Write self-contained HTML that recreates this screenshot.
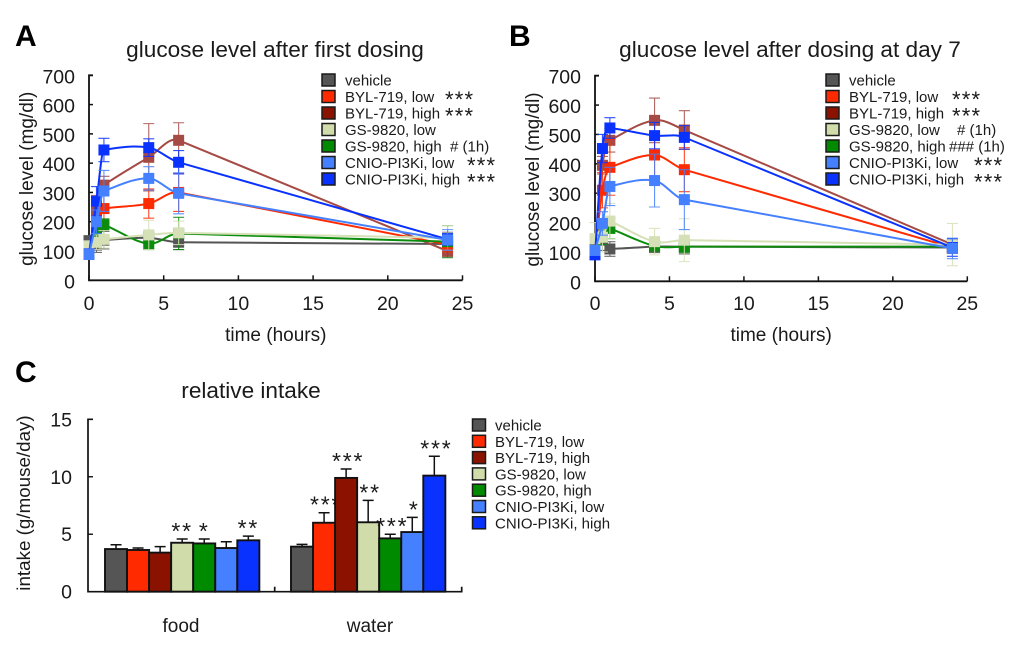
<!DOCTYPE html>
<html>
<head>
<meta charset="utf-8">
<title>Glucose level and relative intake</title>
<style>
html,body{margin:0;padding:0;background:#fff;width:1020px;height:658px;overflow:hidden}
svg{display:block;filter:blur(0.35px)}
text{font-family:"Liberation Sans",sans-serif;fill:#1a1a1a}
</style>
</head>
<body>
<svg id="fig" xmlns="http://www.w3.org/2000/svg" width="1020" height="658" viewBox="0 0 1020 658"></svg>
<script>
const seriesNames = ['vehicle','BYL-719, low','BYL-719, high','GS-9820, low','GS-9820, high','CNIO-PI3Ki, low','CNIO-PI3Ki, high'];
const timePoints = [0,0.5,1,4,6,24];
const xTicks = [0,5,10,15,20,25];
const yTicksGlucose = [0,100,200,300,400,500,600,700];
const yTicksIntake = [0,5,10,15];
const barGroups = ['food','water'];

const glucoseA = [
  [133,120,137,145,130,124],
  [90,170,245,262,300,122],
  [100,240,325,420,478,100],
  [115,130,140,155,162,145],
  [90,160,190,125,160,132],
  [88,200,305,348,297,138],
  [90,270,445,453,403,140]
];
const errorA = [
  [20,25,30,20,25,40],
  [10,30,50,50,65,25],
  [10,50,30,115,60,20],
  [20,25,30,50,40,42],
  [10,20,20,20,55,55],
  [10,40,70,40,70,35],
  [10,50,40,30,40,20]
];
const glucoseB = [
  [105,140,110,118,118,115],
  [100,310,388,430,380,115],
  [100,395,480,548,515,125],
  [145,150,205,135,140,125],
  [100,150,180,120,118,118],
  [105,197,323,343,278,112],
  [90,452,522,496,490,115]
];
const errorB = [
  [20,35,25,20,25,15],
  [20,60,95,75,75,20],
  [15,30,40,76,66,15],
  [55,50,60,45,73,72],
  [20,25,35,15,20,15],
  [15,40,65,90,102,35],
  [15,48,35,45,40,30]
];
const intakeFood = [3.71,3.63,3.4,4.26,4.2,3.8,4.47];
const intakeFoodError = [0.38,0.17,0.52,0.32,0.38,0.55,0.37];
const intakeWater = [3.92,6.0,9.9,6.04,4.64,5.19,10.1];
const intakeWaterError = [0.2,0.87,0.78,1.91,0.36,1.28,1.68];
const foodStars = ['','','','**','*','','**'];
const waterStars = ['','***','***','**','***','*','***'];
const legendMarksA = ['','***','***','','# (1h)','***','***'];
const legendMarksB = ['','***','***','# (1h)','### (1h)','***','***'];

const svg = document.getElementById('fig');
const NS = 'http://www.w3.org/2000/svg';
const barColors = ['#555555','#ff2a00','#8c1200','#d0dcaa','#008a00','#4480ff','#0a32ff'];
const lineColors = ['#555555','#ff2a00','#a54a44','#d5e0b6','#0c8c0c','#4480ff','#0a32ff'];
const drawOrder = [0,2,1,4,3,6,5];

function add(parent, tag, attrs, txt){
  const e = document.createElementNS(NS, tag);
  for(const k in attrs) e.setAttribute(k, attrs[k]);
  if(txt !== undefined) e.textContent = txt;
  parent.appendChild(e);
  return e;
}
function group(parent, name){
  const g = document.createElementNS(NS, 'g');
  
  
  parent.appendChild(g);
  return g;
}
function label(parent, name, x, y, s, size, anchor, extra){
  const t = add(parent, 'text', Object.assign({x:x, y:y, 'font-size':size, 'text-anchor':anchor||'start'}, extra||{}), s);
  
  
  return t;
}
function legend(parent, x, y0, step, textX, marks, markXs){
  const lg = group(parent, 'legend');
  seriesNames.forEach((n,i)=>{
    const g = group(lg, 'legend-entry-' + n.toLowerCase().replace(/[^a-z0-9]+/g,'-'));
    const cy = y0 + i*step;
    add(g,'rect',{x:x,y:cy-6,width:13,height:12,fill:barColors[i],stroke:'#1a1a1a','stroke-width':1.5});
    label(g,'legend-label',textX,cy+5.5,n,15);
    if(marks && marks[i]){
      const m = marks[i];
      if(m.indexOf('*')===0) label(g,'legend-significance',markXs[i],cy+10.5,m,22,'start',{'letter-spacing':'1.2'});
      else label(g,'legend-significance',markXs[i],cy+5.5,m,15);
    }
  });
}
function linePanel(cfg){
  const p = group(svg, cfg.name);
  const X = t => cfg.x0 + (cfg.x1-cfg.x0)*t/25;
  const Y = v => cfg.y0 + (cfg.y1-cfg.y0)*v/700;
  label(p,'panel-title',cfg.titleX,57,cfg.title,22.6,'middle');
  label(p,'y-axis-title',0,0,'glucose level (mg/dl)',19,'middle',{transform:'translate('+(cfg.x0-56)+','+(Y(350)+1)+') rotate(-90)'});
  label(p,'x-axis-title',(cfg.x0+cfg.x1)/2,341,'time (hours)',19,'middle');
  const ax = group(p,'axes');
  add(ax,'path',{d:'M'+(cfg.x0+4)+' '+Y(700)+'H'+cfg.x0+'V'+cfg.y0+'H'+cfg.x1,fill:'none',stroke:'#111','stroke-width':1.8});
  yTicksGlucose.forEach(v=>{
    add(ax,'line',{x1:cfg.x0,x2:cfg.x0+4,y1:Y(v),y2:Y(v),stroke:'#111','stroke-width':1.5});
    label(ax,'y-tick-label',cfg.x0-14,Y(v)+8,String(v),19.5,'end');
  });
  xTicks.forEach(v=>{
    add(ax,'line',{x1:X(v),x2:X(v),y1:cfg.y0,y2:cfg.y0-5,stroke:'#111','stroke-width':1.5});
    label(ax,'x-tick-label',X(v),310,String(v),19.5,'middle');
  });
  drawOrder.forEach(i=>{
    const g = group(p,'series-' + seriesNames[i].toLowerCase().replace(/[^a-z0-9]+/g,'-'));
    const vals = cfg.values[i], errs = cfg.errors[i], c = lineColors[i];
    timePoints.forEach((t,k)=>{
      const x = X(t), a = Y(vals[k]+errs[k]), b = Y(vals[k]-errs[k]);
      add(g,'path',{d:'M'+x+' '+a+'V'+b+'M'+(x-5.5)+' '+a+'h11M'+(x-5.5)+' '+b+'h11',stroke:c,'stroke-width':1.1,fill:'none','stroke-opacity':0.85});
    });
    const n = timePoints.length, h = [], d = [], m = [];
    for(let k=0;k<n-1;k++){ h[k]=timePoints[k+1]-timePoints[k]; d[k]=(vals[k+1]-vals[k])/h[k]; }
    m[0]=d[0]; m[n-1]=d[n-2];
    for(let k=1;k<n-1;k++){
      m[k] = h[k] >= 3*h[k-1]
        ? d[k] + (h[k] < 6 ? 0.02*d[k-1] : 0)
        : (d[k-1]*h[k-1]+d[k]*h[k])/(h[k-1]+h[k]);
    }
    let path = 'M'+X(timePoints[0])+' '+Y(vals[0]);
    for(let k=0;k<n-1;k++){
      path += 'C'+X(timePoints[k]+h[k]/3)+' '+Y(vals[k]+m[k]*h[k]/3)+' '+X(timePoints[k+1]-h[k]/3)+' '+Y(vals[k+1]-m[k+1]*h[k]/3)+' '+X(timePoints[k+1])+' '+Y(vals[k+1]);
    }
    add(g,'path',{d:path,fill:'none',stroke:c,'stroke-width':2});
    timePoints.forEach((t,k)=>{
      add(g,'rect',{x:X(t)-5.5,y:Y(vals[k])-5.5,width:11,height:11,fill:c});
    });
  });
  legend(p,cfg.legendX,80,16.5,cfg.legendX+23,cfg.marks,cfg.markXs);
}
label(svg,'panel-label-a',15,46,'A',30,'start',{'font-weight':'bold',style:'fill:#000'});
label(svg,'panel-label-b',509,46,'B',30,'start',{'font-weight':'bold',style:'fill:#000'});
label(svg,'panel-label-c',15,382,'C',30,'start',{'font-weight':'bold',style:'fill:#000'});

linePanel({name:'chart-first-dosing',title:'glucose level after first dosing',titleX:275,x0:89,x1:462.5,y0:280.3,y1:75.3,
  values:glucoseA,errors:errorA,legendX:322,marks:legendMarksA,markXs:[0,445,445,0,450,467,467]});
linePanel({name:'chart-dosing-day-7',title:'glucose level after dosing at day 7',titleX:790,x0:595,x1:967.3,y0:281.3,y1:75.7,
  values:glucoseB,errors:errorB,legendX:826,marks:legendMarksB,markXs:[0,952,952,957,949,974,974]});

(function(){
  const p = group(svg,'chart-relative-intake');
  const x0 = 88, x1 = 461.7, y0 = 591.7, y1 = 419.3, bw = 22.05;
  const Y = v => y0 + (y1-y0)*v/15;
  label(p,'chart-title',251,398,'relative intake',22.6,'middle');
  label(p,'y-axis-title',0,0,'intake (g/mouse/day)',18.8,'middle',{transform:'translate(30,503) rotate(-90)'});
  const starts = [105,291];
  const cx = [181,370];
  const sets = [[intakeFood,intakeFoodError,foodStars],[intakeWater,intakeWaterError,waterStars]];
  sets.forEach((s,gi)=>{
    const g = group(p,'bar-group-'+barGroups[gi]);
    s[0].forEach((v,i)=>{
      const x = starts[gi]+i*bw, mid = x+bw/2, top = Y(v), et = Y(v+s[1][i]);
      add(g,'path',{d:'M'+mid+' '+top+'V'+et+'M'+(mid-5.5)+' '+et+'h11',stroke:'#111','stroke-width':1.5,fill:'none'});
      const r = add(g,'rect',{x:x,y:top,width:bw,height:y0-top,fill:barColors[i],stroke:'#111','stroke-width':1.9});
      
      
      if(s[2][i]) label(g,'significance-stars',mid+(gi?2:0),et,s[2][i],23,'middle',{'letter-spacing':'1.8'});
    });
    label(p,'x-category-label',cx[gi],632,barGroups[gi],19,'middle');
  });
  const ax = group(p,'axes');
  add(ax,'path',{d:'M'+(x0+5)+' '+y1+'H'+x0+'V'+y0+'H'+x1+'V'+(y0-5)+'M274.7 '+y0+'v-5',fill:'none',stroke:'#111','stroke-width':1.7});
  yTicksIntake.forEach(v=>{
    add(ax,'line',{x1:x0,x2:x0+5,y1:Y(v),y2:Y(v),stroke:'#111','stroke-width':1.4});
    label(ax,'y-tick-label',72,Y(v)+7,String(v),19.5,'end');
  });
  legend(p,472.5,425,16.3,495,null,null);
})();
</script>
</body>
</html>
